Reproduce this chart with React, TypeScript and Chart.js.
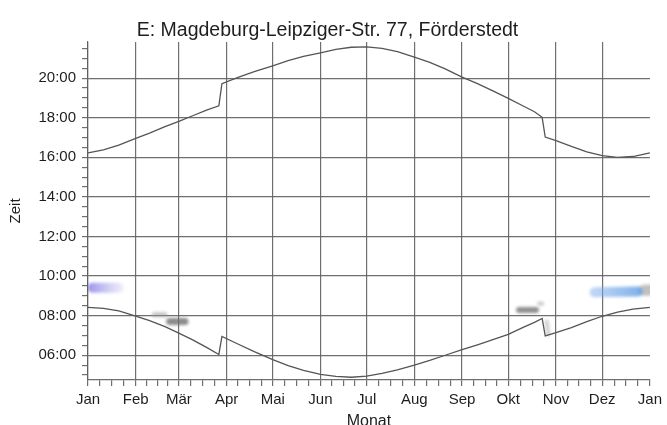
import React, { useEffect, useRef } from 'react';
import { Chart, registerables } from 'chart.js';

Chart.register(...registerables);

// ---------- text ----------
const TITLE = 'E: Magdeburg-Leipziger-Str. 77, Förderstedt';
const X_TITLE = 'Monat';
const Y_TITLE = 'Zeit';

// ---------- axes ----------
const MONTH_LABELS = ['Jan', 'Feb', 'Mär', 'Apr', 'Mai', 'Jun', 'Jul', 'Aug', 'Sep', 'Okt', 'Nov', 'Dez', 'Jan'];
const MONTH_START_DAYS = [0, 31, 59, 90, 120, 151, 181, 212, 243, 273, 304, 334, 365];
const Y_MIN = 4.75;
const Y_MAX = 21.83;
const Y_LABEL_HOURS = [6, 8, 10, 12, 14, 16, 18, 20];

// ---------- series: sunrise (lower curve), day of year -> hour ----------
const SUNRISE_DAYS = [0, 10, 20, 31, 40, 50, 59, 68, 77, 85, 87, 97, 108, 120, 130, 140, 151, 161, 171, 181, 191, 201, 212, 222, 232, 243, 253, 263, 273, 283, 290, 295, 297, 304, 314, 324, 334, 344, 354, 365];
const SUNRISE_HOURS = [8.42, 8.37, 8.24, 7.98, 7.75, 7.45, 7.12, 6.78, 6.4, 6.04, 6.95, 6.58, 6.18, 5.78, 5.48, 5.24, 5.03, 4.93, 4.89, 4.95, 5.08, 5.26, 5.5, 5.74, 6.0, 6.28, 6.53, 6.79, 7.06, 7.42, 7.66, 7.86, 6.98, 7.14, 7.4, 7.7, 7.97, 8.18, 8.33, 8.42];

// ---------- series: sunset (upper curve), day of year -> hour ----------
const SUNSET_DAYS = [0, 10, 20, 31, 40, 50, 59, 68, 77, 85, 87, 97, 108, 120, 130, 140, 151, 161, 171, 181, 191, 201, 212, 222, 232, 243, 253, 263, 273, 283, 290, 295, 297, 304, 314, 324, 334, 344, 354, 365];
const SUNSET_HOURS = [16.22, 16.38, 16.62, 16.96, 17.22, 17.55, 17.82, 18.1, 18.38, 18.6, 19.72, 20.02, 20.33, 20.62, 20.88, 21.1, 21.28, 21.45, 21.56, 21.58, 21.5, 21.34, 21.06, 20.8, 20.47, 20.05, 19.72, 19.36, 18.98, 18.58, 18.3, 18.02, 17.02, 16.84, 16.55, 16.28, 16.08, 16.0, 16.04, 16.22];

// ---------- shadow-flicker patches ----------
const FLICKER_JAN_DAYS = [3, 20];
const FLICKER_JAN_HOURS = [9.41, 9.41];
const FLICKER_FEB_A_DAYS = [43, 50];
const FLICKER_FEB_A_HOURS = [8.05, 8.05];
const FLICKER_FEB_B_DAYS = [53, 63];
const FLICKER_FEB_B_HOURS = [7.7, 7.7];
const FLICKER_OKT_A_DAYS = [280, 291];
const FLICKER_OKT_A_HOURS = [8.28, 8.28];
const FLICKER_OKT_B_DAYS = [293, 295];
const FLICKER_OKT_B_HOURS = [8.62, 8.6];
const FLICKER_OKT_C_DAYS = [298, 299];
const FLICKER_OKT_C_HOURS = [7.7, 7.05];
const FLICKER_DEZ_A_DAYS = [329, 357];
const FLICKER_DEZ_A_HOURS = [9.18, 9.22];
const FLICKER_DEZ_B_DAYS = [361, 366];
const FLICKER_DEZ_B_HOURS = [9.28, 9.3];

const FONT = '"Liberation Sans", Arial, sans-serif';
const GRID = 'rgba(95,95,95,0.9)';
const LINE = '#555555';
const TEXT = '#1e1e1e';

const toPoints = (xs: number[], ys: number[]) => xs.map((x, i) => ({ x, y: ys[i] }));

const X_TICK_VALUES: number[] = [];
for (let m = 0; m < MONTH_START_DAYS.length - 1; m++) {
  const a = MONTH_START_DAYS[m];
  const b = MONTH_START_DAYS[m + 1];
  for (let k = 0; k < 4; k++) X_TICK_VALUES.push(a + ((b - a) * k) / 4);
}
X_TICK_VALUES.push(MONTH_START_DAYS[MONTH_START_DAYS.length - 1]);

const Y_TICK_VALUES: number[] = [];
for (let h = 5; h <= 21.5; h += 0.5) Y_TICK_VALUES.push(h);

function patch(days: number[], hours: number[], color: string, width: number, fadeTo?: string) {
  return {
    type: 'line' as const,
    data: toPoints(days, hours),
    borderColor: fadeTo
      ? (ctx: any) => {
          const chart = ctx.chart;
          const xs = chart.scales && chart.scales.x;
          if (!xs) return color;
          const x0 = xs.getPixelForValue(days[0]) - width / 2;
          const x1 = xs.getPixelForValue(days[days.length - 1]) + width / 2;
          if (!Number.isFinite(x0) || !Number.isFinite(x1) || x1 <= x0) return color;
          const g = chart.ctx.createLinearGradient(x0, 0, x1, 0);
          g.addColorStop(0, color);
          g.addColorStop(1, fadeTo);
          return g;
        }
      : color,
    borderWidth: width,
    borderCapStyle: 'round' as const,
    pointRadius: 0,
    showLine: true,
    fill: false,
    isPatch: true,
    order: 5,
  };
}

const blurPlugin = {
  id: 'patchBlur',
  beforeDatasetDraw(chart: any, args: any) {
    const ds = chart.data.datasets[args.index];
    if (ds && ds.isPatch) {
      chart.ctx.save();
      chart.ctx.filter = 'blur(1.6px)';
    }
  },
  afterDatasetDraw(chart: any, args: any) {
    const ds = chart.data.datasets[args.index];
    if (ds && ds.isPatch) chart.ctx.restore();
  },
};

export default function App() {
  const ref = useRef<HTMLCanvasElement | null>(null);

  useEffect(() => {
    if (!ref.current) return;
    const chart = new Chart(ref.current, {
      type: 'line',
      data: {
        datasets: [
          patch(FLICKER_JAN_DAYS, FLICKER_JAN_HOURS, 'rgba(120,110,225,0.75)', 10, 'rgba(150,150,230,0.15)'),
          patch(FLICKER_FEB_A_DAYS, FLICKER_FEB_A_HOURS, 'rgba(150,150,150,0.55)', 5),
          patch(FLICKER_FEB_B_DAYS, FLICKER_FEB_B_HOURS, 'rgba(110,110,110,0.8)', 7),
          patch(FLICKER_OKT_A_DAYS, FLICKER_OKT_A_HOURS, 'rgba(115,115,115,0.8)', 6),
          patch(FLICKER_OKT_B_DAYS, FLICKER_OKT_B_HOURS, 'rgba(150,150,150,0.5)', 4),
          patch(FLICKER_OKT_C_DAYS, FLICKER_OKT_C_HOURS, 'rgba(150,150,150,0.45)', 4),
          patch(FLICKER_DEZ_A_DAYS, FLICKER_DEZ_A_HOURS, 'rgba(125,170,235,0.45)', 10, 'rgba(100,160,230,0.85)'),
          patch(FLICKER_DEZ_B_DAYS, FLICKER_DEZ_B_HOURS, 'rgba(150,150,150,0.6)', 11),
          {
            type: 'line',
            data: toPoints(SUNRISE_DAYS, SUNRISE_HOURS),
            borderColor: LINE,
            borderWidth: 1.3,
            pointRadius: 0,
            tension: 0,
            fill: false,
            order: 1,
          },
          {
            type: 'line',
            data: toPoints(SUNSET_DAYS, SUNSET_HOURS),
            borderColor: LINE,
            borderWidth: 1.3,
            pointRadius: 0,
            tension: 0,
            fill: false,
            order: 1,
          },
        ] as any,
      },
      plugins: [blurPlugin],
      options: {
        animation: false,
        responsive: true,
        maintainAspectRatio: false,
        parsing: false as any,
        layout: { padding: { left: 0, right: 12, top: 0, bottom: 0 } },
        plugins: {
          legend: { display: false },
          tooltip: { enabled: false },
          title: {
            display: true,
            text: TITLE,
            color: TEXT,
            font: { family: FONT, size: 19.5, weight: 'normal' },
            padding: { top: 18.5, bottom: 0 },
          },
        },
        scales: {
          x: {
            type: 'linear',
            min: 0,
            max: 365,
            afterBuildTicks: (scale: any) => {
              scale.ticks = X_TICK_VALUES.map((v) => ({ value: v }));
            },
            afterFit: (scale: any) => {
              scale.height = 45;
            },
            ticks: {
              autoSkip: false,
              maxRotation: 0,
              padding: 5,
              color: TEXT,
              font: { family: FONT, size: 15 },
              callback: (v: any) => {
                const i = MONTH_START_DAYS.indexOf(Number(v));
                return i >= 0 ? MONTH_LABELS[i] : '';
              },
            },
            grid: {
              color: (c: any) => {
                const v = c.tick ? c.tick.value : -1;
                return MONTH_START_DAYS.indexOf(v) >= 0 && v !== 365 ? GRID : 'rgba(0,0,0,0)';
              },
              tickColor: GRID,
              tickLength: 6,
              lineWidth: 1.2,
            },
            border: { color: GRID, width: 1.2 },
            title: {
              display: true,
              text: X_TITLE,
              color: TEXT,
              font: { family: FONT, size: 16 },
              padding: { top: 0, bottom: -6.5 },
            },
          },
          y: {
            type: 'linear',
            min: Y_MIN,
            max: Y_MAX,
            afterBuildTicks: (scale: any) => {
              scale.ticks = Y_TICK_VALUES.map((v) => ({ value: v }));
            },
            afterFit: (scale: any) => {
              scale.width = 88;
            },
            ticks: {
              autoSkip: false,
              padding: 6,
              color: TEXT,
              font: { family: FONT, size: 15 },
              callback: (v: any) => {
                const h = Number(v);
                if (Y_LABEL_HOURS.indexOf(h) < 0) return '';
                return (h < 10 ? '0' : '') + h + ':00';
              },
            },
            grid: {
              color: (c: any) => {
                const v = c.tick ? c.tick.value : -1;
                return Y_LABEL_HOURS.indexOf(v) >= 0 ? GRID : 'rgba(0,0,0,0)';
              },
              tickColor: GRID,
              tickLength: 6,
              lineWidth: 1.2,
            },
            border: { color: GRID, width: 1.2 },
            title: {
              display: true,
              text: Y_TITLE,
              color: TEXT,
              font: { family: FONT, size: 15 },
              padding: { top: 7, bottom: 0 },
            },
          },
        },
      } as any,
    });
    return () => chart.destroy();
  }, []);

  return (
    <div style={{ position: 'absolute', left: 0, top: 0, width: 667, height: 425, background: '#fff' }}>
      <canvas ref={ref} />
    </div>
  );
}
